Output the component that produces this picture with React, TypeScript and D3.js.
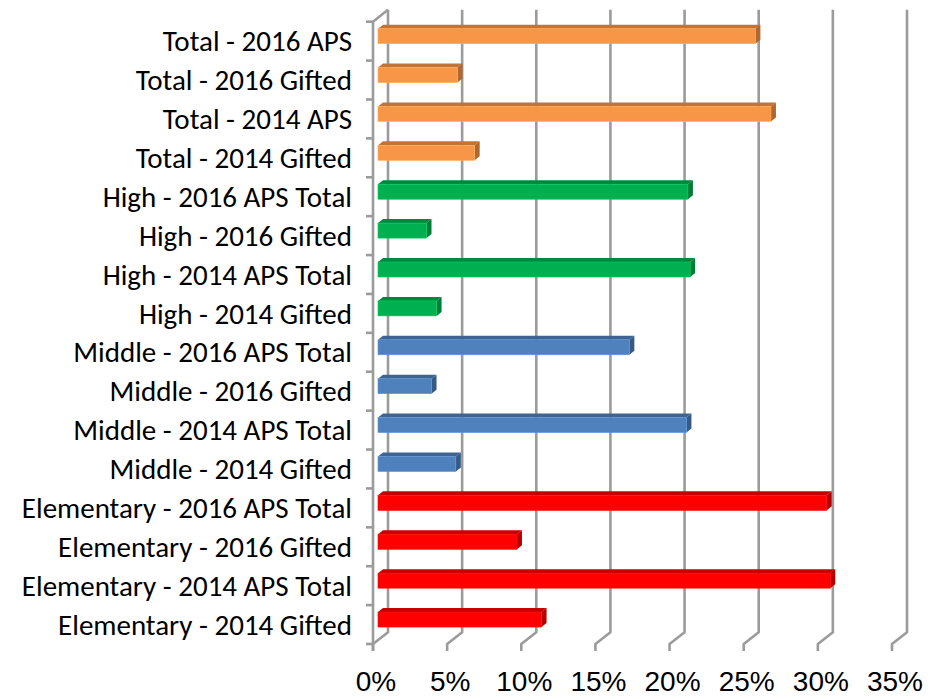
import React from "react";
import * as d3 from "d3";

// categories top to bottom
const categories = [
  "Total - 2016 APS",
  "Total - 2016 Gifted",
  "Total - 2014 APS",
  "Total - 2014 Gifted",
  "High - 2016 APS Total",
  "High - 2016 Gifted",
  "High - 2014 APS Total",
  "High - 2014 Gifted",
  "Middle - 2016 APS Total",
  "Middle - 2016 Gifted",
  "Middle - 2014 APS Total",
  "Middle - 2014 Gifted",
  "Elementary - 2016 APS Total",
  "Elementary - 2016 Gifted",
  "Elementary - 2014 APS Total",
  "Elementary - 2014 Gifted",
];

const values = [
  0.2545, 0.0536, 0.265, 0.0652,
  0.209, 0.0327, 0.2105, 0.0395,
  0.1695, 0.0361, 0.208, 0.0525,
  0.3026, 0.0937, 0.305, 0.1103,
];

const groups = ["Total", "High", "Middle", "Elementary"];
const xTicks = [0, 0.05, 0.1, 0.15, 0.2, 0.25, 0.3, 0.35];

const width = 941;
const height = 699;

// 3D layout
const plotTop = 21.7;
const plotBottom = 644;
const depthX = 15;
const depthY = -11.7;
const barOffX = 5;
const barOffY = -5;
const barFace = 15;
const barDx = 5;
const barDy = -4;

const gridColor = "#9b9b9b";

const App: React.FC = () => {
  const y = d3
    .scaleBand<string>()
    .domain(categories)
    .range([plotTop, plotBottom])
    .padding(0);

  const x = d3.scaleLinear().domain([0, 0.35]).range([373, 892]);

  const color = d3
    .scaleOrdinal<string, string>()
    .domain(groups)
    .range(["#F79646", "#00B050", "#4F81BD", "#FF0000"]);

  const backTop = plotTop + depthY - 0.3;
  const backBottom = plotBottom + depthY;

  const bandEdges = d3.range(categories.length + 1).map((i) => plotTop + i * y.step());

  return (
    <svg width={width} height={height} style={{ display: "block", position: "absolute", left: 0, top: 0 }}>
      <rect width={width} height={height} fill="#ffffff" />

      {/* back wall + floor grid lines */}
      <g stroke={gridColor} strokeWidth={2.6} fill="none" strokeLinejoin="round">
        {xTicks.map((t) => (
          <path
            key={t}
            d={`M${x(t) + depthX},${backTop}L${x(t) + depthX},${backBottom}L${x(t)},${plotBottom}L${x(t)},${plotBottom + 7}`}
          />
        ))}
        {/* left wall front edge */}
        <path d={`M${x(0) + depthX},${backTop}L${x(0)},${plotTop}L${x(0)},${plotBottom + 7}`} />
        {bandEdges.map((e, i) => (
          <line key={i} x1={x(0) - 7} x2={x(0)} y1={e} y2={e} />
        ))}
      </g>

      {/* bars */}
      {categories.map((c, i) => {
        const base = color(c.split(" - ")[0]);
        const top = d3.color(base)!.darker(0.7).formatHex();
        const side = d3.color(base)!.darker(1.0).formatHex();
        const x0 = x(0) + barOffX;
        const x1 = x(values[i]) + barOffX;
        const y0 = (y(c) as number) + y.bandwidth() / 2 - barFace / 2 + barOffY;
        const y1 = y0 + barFace;
        return (
          <g key={c}>
            <path
              d={`M${x0},${y0}L${x1},${y0}L${x1 + barDx},${y0 + barDy}L${x0 + barDx},${y0 + barDy}Z`}
              fill={top}
            />
            <path
              d={`M${x1},${y0}L${x1 + barDx},${y0 + barDy}L${x1 + barDx},${y1 + barDy}L${x1},${y1}Z`}
              fill={side}
            />
            <rect x={x0} y={y0} width={x1 - x0} height={barFace} fill={base} stroke={d3.color(base)!.brighter(0.4).formatHex()} strokeWidth={0.6} />
          </g>
        );
      })}

      {/* category labels */}
      <g fontFamily="Carlito, Calibri, Lato, sans-serif" fontSize={29} fill="#000" textAnchor="end">
        {categories.map((c) => (
          <text key={c} x={352} y={(y(c) as number) + y.bandwidth() / 2} dy="0.35em">
            {c}
          </text>
        ))}
      </g>

      {/* value axis labels */}
      <g fontFamily="'Liberation Sans', Arial, sans-serif" fontSize={28} fill="#000" textAnchor="middle">
        {xTicks.map((t) => (
          <text key={t} x={x(t) + 3} y={691}>
            {d3.format(".0%")(t)}
          </text>
        ))}
      </g>
    </svg>
  );
};

export default App;
